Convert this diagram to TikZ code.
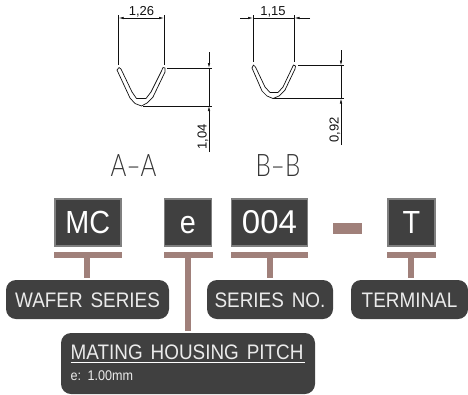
\documentclass[tikz,border=0pt]{standalone}
\usepackage{fontspec}
\setmainfont{Liberation Sans}
\newfontfamily\thinf[FakeStretch=0.78]{Lato Light}
\newfontfamily\narrowf[FakeStretch=0.9,WordSpace=1.5]{Liberation Sans}
\definecolor{boxfill}{HTML}{404040}
\definecolor{boxedge}{HTML}{7F7F7F}
\definecolor{barc}{HTML}{A0807A}
\definecolor{inkc}{HTML}{111111}
\usetikzlibrary{arrows.meta}
\tikzset{
 codebox/.style={draw=boxedge,line width=1.6pt,fill=boxfill,text=white,inner sep=0pt,minimum height=47pt,text height=23pt,text depth=2pt,font=\narrowf\fontsize{32}{32}\selectfont},
 labelbox/.style={fill=boxfill,rounded corners=10pt,text=white!92!black,inner sep=0pt,minimum height=39pt,text height=15pt,text depth=0pt,font=\narrowf\fontsize{21}{21}\selectfont},
 matebox/.style={fill=boxfill,rounded corners=10pt,minimum width=254pt,minimum height=61pt,inner sep=0pt},
 matetext/.style={anchor=base west,inner sep=0pt,text=white!92!black},
 dimline/.style={draw=inkc,line width=0.6pt},
 dimarrow/.style={draw=inkc,line width=0.6pt,{Latex[length=5pt,width=2.5pt]}-{Latex[length=5pt,width=2.5pt]}},
 tipline/.style={dimline,-{Latex[length=5pt,width=2.5pt]}},
 dimtext/.style={inner sep=0pt,text=inkc,font=\fontsize{13}{13}\selectfont},
 secttext/.style={inner sep=0pt,text=inkc!85,font=\thinf\fontsize{31}{31}\selectfont},
 clipshape/.style={draw=inkc,line width=0.7pt,line join=round},
}
\begin{document}
\begin{tikzpicture}[x=1pt,y=-1pt]
\useasboundingbox (0,0) rectangle (468,394);
% A-A
\draw[dimline] (118.7,15) -- (118.7,65);
\draw[dimline] (164,15) -- (164,65);
\coordinate (a1) at (118.7,18); \coordinate (a2) at (164,18);
\draw[dimarrow] (a1) -- (a2);
\node[dimtext] at (141.5,11.5) {1,26};
\draw[dimline] (167,68) -- (212,68);
\draw[dimline] (143,106) -- (212,106);
\coordinate (a3) at (209,52); \coordinate (a4) at (209,68); \coordinate (a5) at (209,106); \coordinate (a6) at (209,152);
\draw[tipline] (a3) -- (a4);
\draw[dimline] (a4) -- (a5);
\draw[tipline] (a6) -- (a5);
\node[dimtext,rotate=90] at (203,137) {1,04};
\draw[clipshape] (117,70) -- (119,67.5) -- (121,69) -- (132,92) -- (136.5,98.5) -- (146,98.5) -- (151,92) -- (161.5,71) -- (163,67.5) -- (165,68) -- (165,72) -- (153,97) -- (147,103) -- (141.5,106) -- (135,103.5) -- (130,98) -- cycle;
\node[secttext] at (133.5,166) {A–A};
% B-B
\draw[dimline] (253,15) -- (253,62);
\draw[dimline] (294.5,15) -- (294.5,62);
\coordinate (b0) at (240,18); \coordinate (b1) at (253,18); \coordinate (b2) at (294.5,18); \coordinate (b3) at (310,18);
\draw[tipline] (b0) -- (b1);
\draw[dimline] (b1) -- (b2);
\draw[tipline] (b3) -- (b2);
\node[dimtext] at (273,11.5) {1,15};
\draw[dimline] (298,65.5) -- (344,65.5);
\draw[dimline] (273,98.5) -- (344,98.5);
\coordinate (b4) at (341,50); \coordinate (b5) at (341,65.5); \coordinate (b6) at (341,98.5); \coordinate (b7) at (341,145);
\draw[tipline] (b4) -- (b5);
\draw[dimline] (b5) -- (b6);
\draw[tipline] (b7) -- (b6);
\node[dimtext,rotate=90] at (335,130) {0,92};
\draw[clipshape] (252,68) -- (253.5,65) -- (255.5,67) -- (265,87) -- (270,92.5) -- (278,92.5) -- (283,87) -- (292.5,67) -- (293.5,65) -- (295.5,66) -- (295,69) -- (285,90) -- (279,96) -- (273,98.5) -- (267,96) -- (262,91) -- cycle;
\node[secttext] at (278,166) {B–B};
% dash
\fill[barc] (333,223) rectangle (362,234);
% code boxes
\node[codebox,minimum width=66pt] (mc) at (87.7,222.5) {MC};
\node[codebox,minimum width=47pt] (e) at (188,222.5) {e};
\node[codebox,minimum width=76pt,font=\rmfamily\fontsize{33}{33}\selectfont] (n) at (269.5,222.5) {004};
\node[codebox,minimum width=47pt] (t) at (411.5,222.5) {T};
% labels
\node[labelbox,minimum width=163pt] (wafer) at (87.5,299.5) {WAFER SERIES};
\node[labelbox,minimum width=126pt] (series) at (270,299.5) {SERIES NO.};
\node[labelbox,minimum width=117pt] (term) at (409.5,299.5) {TERMINAL};
\node[matebox] (mate) at (188,363.5) {};
\node[matetext,font=\narrowf\fontsize{21}{21}\selectfont] (mt) at (70.5,359) {MATING HOUSING PITCH};
\coordinate (ul) at (70.5,362.7); \coordinate (ur) at (305,362.7);
\draw[white,line width=1pt] (ul) -- (ur);
\node[matetext,font=\narrowf\fontsize{14}{14}\selectfont] (mv) at (70.5,380) {e: 1.00mm};
% bars
\fill[barc] (54,252) rectangle (122,258);
\fill[barc] (164,252) rectangle (213,258);
\fill[barc] (231,252) rectangle (308,258);
\fill[barc] (387,252) rectangle (436,258);
\fill[barc] (84,258) rectangle (90,277.5);
\fill[barc] (185,258) rectangle (191,331);
\fill[barc] (267,258) rectangle (273,277.5);
\fill[barc] (408,258) rectangle (414,277.5);
\end{tikzpicture}
\end{document}
